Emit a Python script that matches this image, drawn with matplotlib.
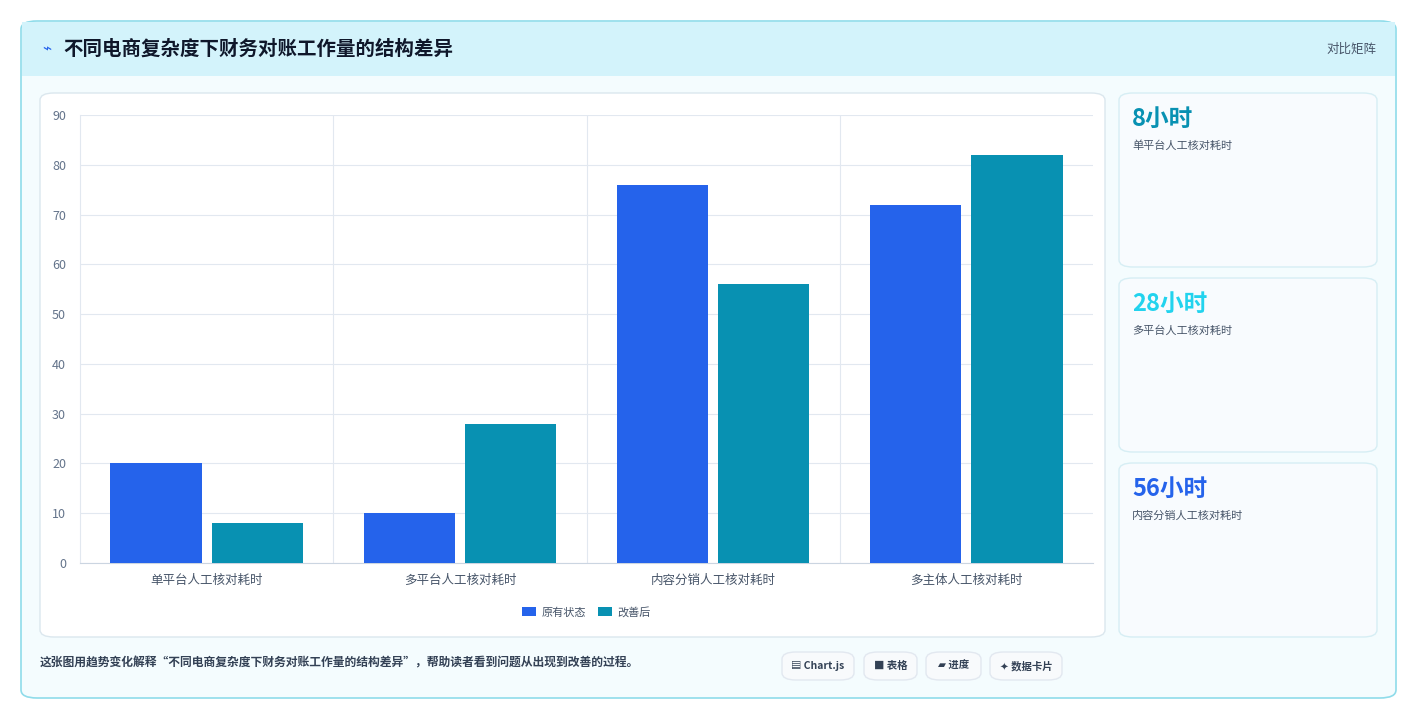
import matplotlib
matplotlib.use("Agg")
import matplotlib.pyplot as plt
from matplotlib.patches import FancyBboxPatch, Rectangle
import numpy as np

plt.rcParams['font.family'] = ['Noto Sans CJK SC', 'DejaVu Sans']

categories = ["单平台人工核对耗时", "多平台人工核对耗时", "内容分销人工核对耗时", "多主体人工核对耗时"]
original = [20, 10, 76, 72]
improved = [8, 28, 56, 82]
series_names = ["原有状态", "改善后"]
colors = ["#2563eb", "#0891b2"]
title = "不同电商复杂度下财务对账工作量的结构差异"
card_values = ["8小时", "28小时", "56小时"]
card_labels = ["单平台人工核对耗时", "多平台人工核对耗时", "内容分销人工核对耗时"]
card_colors = ["#0891b2", "#22d3ee", "#2563eb"]
chips = ["▤ Chart.js", "■ 表格", "▰ 进度", "✦ 数据卡片"]

W, H = 1417, 720
fig = plt.figure(figsize=(W/100, H/100), dpi=100)
fig.patch.set_facecolor("white")

def box(x, y, w, h, fc, ec, r=12, lw=1, z=0):
    p = FancyBboxPatch((x/W, 1-(y+h)/H), w/W, h/H,
                       boxstyle=f"round,pad=0,rounding_size={r/W}",
                       transform=fig.transFigure, fc=fc, ec=ec, lw=lw, zorder=z)
    fig.add_artist(p)

# outer card
box(21, 21, 1375, 677, "#f4fcfe", "#8fdcea", r=16, lw=1.2)
# header band
fig.add_artist(Rectangle((22/W, 1-76/H), 1373/W, 54/H, transform=fig.transFigure,
                         fc="#d3f3fb", ec="none", zorder=0.5))
fig.text(42/W, 1-49/H, "⌁", fontsize=11, color="#2563eb", va="center", family=['DejaVu Sans'])
fig.text(63/W, 1-49/H, title, fontsize=14, fontweight="bold", color="#0f172a", va="center")
fig.text(1376/W, 1-49/H, "对比矩阵", fontsize=9, color="#475569", va="center", ha="right")

# chart panel
box(40, 93, 1065, 544, "white", "#dbe7ee", r=14)
# cards
for i, yy in enumerate([93, 278, 463]):
    box(1119, yy, 258, 174, "#f8fbfe", "#d6eef4", r=14)
    fig.text(1132/W, 1-(yy+26)/H, card_values[i], fontsize=17, fontweight="bold",
             color=card_colors[i], va="center")
    fig.text(1132/W, 1-(yy+53)/H, card_labels[i], fontsize=8, color="#475569", va="center")

ax = fig.add_axes([80/W, 1-563/H, 1013/W, 448/H])
x = np.arange(len(categories))
bw = 0.36
ax.bar(x-0.2, original, bw, color=colors[0], label=series_names[0], zorder=3)
ax.bar(x+0.2, improved, bw, color=colors[1], label=series_names[1], zorder=3)
ax.set_xlim(-0.5, 3.5)
ax.set_ylim(0, 90)
ax.set_yticks(range(0, 91, 10))
ax.set_xticks(x)
ax.set_xticklabels(categories, fontsize=9, color="#475569")
ax.tick_params(axis='y', labelsize=9, labelcolor="#64748b", length=0, pad=10)
ax.tick_params(axis='x', length=0, pad=8)
ax.grid(axis='y', color="#e2e8f0", lw=0.8, zorder=0)
for b in [0.5, 1.5, 2.5]:
    ax.axvline(b, color="#e2e8f0", lw=0.8, zorder=0)
for s in ["top", "right"]:
    ax.spines[s].set_visible(False)
ax.spines["left"].set_color("#e2e8f0")
ax.spines["bottom"].set_color("#cbd5e1")
ax.set_facecolor("white")
leg = ax.legend(loc="upper center", bbox_to_anchor=(0.5, -0.075), ncol=2, frameon=False,
                fontsize=8, handlelength=1.3, handleheight=0.9, columnspacing=1.0, handletextpad=0.5)
for t in leg.get_texts():
    t.set_color("#475569")

fig.text(40/W, 1-663/H, "这张图用趋势变化解释“不同电商复杂度下财务对账工作量的结构差异”，帮助读者看到问题从出现到改善的过程。",
         fontsize=8.5, color="#334155", va="center", fontweight="bold")
cx = [782, 864, 926, 990]
cw = [72, 53, 55, 72]
for c, w_, t in zip(cx, cw, chips):
    box(c, 652, w_, 28, "#f8fafc", "#e2e8f0", r=14)
    fig.text((c+w_/2)/W, 1-666/H, t, fontsize=7.5, fontweight="bold", color="#334155",
             ha="center", va="center", family=['Noto Sans CJK SC', 'DejaVu Sans'])

fig.savefig("out.png", dpi=100, facecolor="white")
